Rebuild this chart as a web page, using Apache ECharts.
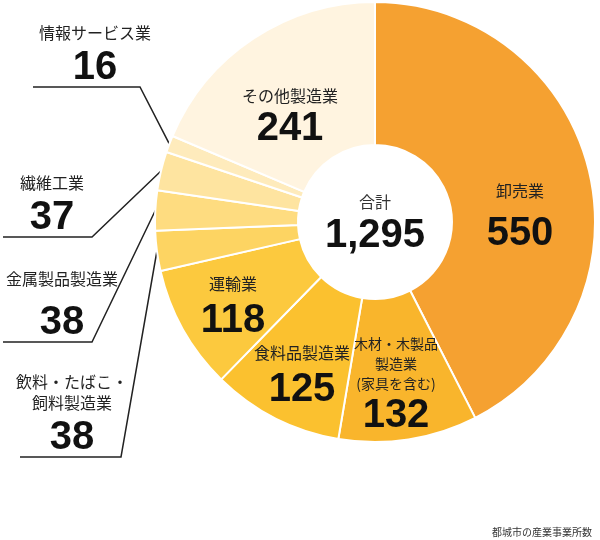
<!DOCTYPE html>
<html>
<head>
<meta charset="utf-8">
<script src="https://cdn.jsdelivr.net/npm/echarts@6/dist/echarts.min.js"></script>
<style>
html,body{margin:0;padding:0;background:#fff;}
#chart{width:600px;height:540px;}
</style>
</head>
<body>
<div id="chart"></div>
<script>
// ---- data ----
const categories = ['卸売業', '木材・木製品\n製造業\n(家具を含む)', '食料品製造業', '運輸業', '飲料・たばこ・\n飼料製造業', '金属製品製造業', '繊維工業', '情報サービス業', 'その他製造業'];
const values = [550, 132, 125, 118, 38, 38, 37, 16, 241];
const totalLabel = '合計';
const footnote = '都城市の産業事業所数';

// ---- styles ----
const colors = ['#F5A131', '#F9B52C', '#FBC12F', '#FCC93E', '#FDD462', '#FEDC80', '#FEE4A0', '#FEEBBC', '#FFF4E0'];
const JP = '"Noto Sans CJK JP", "Noto Sans", sans-serif';
const NUM = '"Liberation Sans Narrow", "Liberation Sans", Arial, sans-serif';

// label placement (layout only)
const innerPos = {0: [520, 220], 1: [396, 386], 2: [302, 379], 3: [233, 310], 8: [290, 118]};
const outerPos = {
  4: {x: 72, ul: 457, left: 20, elbow: 121},
  5: {x: 62, ul: 342, left: 3, elbow: 92},
  6: {x: 52, ul: 237, left: 3, elbow: 92},
  7: {x: 95, ul: 87, left: 33, elbow: 140}
};

const total = values.reduce((a, b) => a + b, 0);
const fmt = n => n.toLocaleString('en-US');

const data = categories.map((name, i) => {
  const outside = outerPos[i] !== undefined;
  return {
    name: name,
    value: values[i],
    itemStyle: {color: colors[i]},
    label: {position: outside ? 'outside' : 'inside'},
    labelLine: {show: outside}
  };
});

const chart = echarts.init(document.getElementById('chart'), null, {renderer: 'canvas'});
chart.setOption({
  animation: false,
  series: [{
    type: 'pie',
    center: [375, 222],
    radius: [77, 220],
    startAngle: 90,
    clockwise: true,
    avoidLabelOverlap: false,
    itemStyle: {borderColor: '#fff', borderWidth: 2},
    emphasis: {disabled: true},
    data: data,
    label: {
      show: true,
      color: '#222',
      formatter: function (p) {
        const i = p.dataIndex;
        const v = fmt(p.value);
        if (i === 1) return '{ns|' + p.name + '}\n{vs|' + v + '}';
        if (i === 8) return '{n|' + p.name + '}\n{vs|' + v + '}';
        if (i === 0) return '{n|' + p.name + '}\n{g6| }\n{v|' + v + '}';
        if (i === 5) return '{n|' + p.name + '}\n{g| }\n{vo|' + v + '}';
        if (outerPos[i] !== undefined) return '{n|' + p.name + '}\n{g5| }\n{vo|' + v + '}';
        return '{n|' + p.name + '}\n{v|' + v + '}';
      },
      rich: {
        n: {fontFamily: JP, fontSize: 16, lineHeight: 21, color: '#222', align: 'center'},
        ns: {fontFamily: JP, fontSize: 14, lineHeight: 20, color: '#222', align: 'center'},
        g: {fontSize: 4, lineHeight: 14},
        g5: {fontSize: 4, lineHeight: 5},
        g6: {fontSize: 4, lineHeight: 6},
        v: {fontFamily: NUM, fontSize: 40, fontWeight: 'bold', lineHeight: 52, color: '#111', align: 'center'},
        vs: {fontFamily: NUM, fontSize: 40, fontWeight: 'bold', lineHeight: 44, color: '#111', align: 'center'},
        vo: {fontFamily: NUM, fontSize: 40, fontWeight: 'bold', lineHeight: 40, color: '#111', align: 'center'}
      }
    },
    labelLine: {
      show: true,
      smooth: false,
      lineStyle: {color: '#222', width: 1.5}
    },
    labelLayout: function (params) {
      const i = params.dataIndex;
      if (innerPos[i]) {
        return {x: innerPos[i][0], y: innerPos[i][1], align: 'center', verticalAlign: 'middle'};
      }
      const o = outerPos[i];
      if (!o) return {};
      const pts = params.labelLinePoints;
      const anchor = pts && pts.length ? pts[0] : [o.elbow, o.ul];
      return {
        x: o.x,
        y: o.ul + 1,
        align: 'center',
        verticalAlign: 'bottom',
        labelLinePoints: [[anchor[0], anchor[1]], [o.elbow, o.ul], [o.left, o.ul]]
      };
    }
  }],
  graphic: [
    {type: 'text', x: 375, y: 202, style: {text: totalLabel, font: '16px ' + JP, fill: '#333', align: 'center', verticalAlign: 'middle'}},
    {type: 'text', x: 375, y: 236, style: {text: fmt(total), font: 'bold 40px ' + NUM, fill: '#111', align: 'center', verticalAlign: 'middle'}},
    {type: 'text', x: 592, y: 532, style: {text: footnote, font: '10px ' + JP, fill: '#333', align: 'right', verticalAlign: 'middle'}}
  ]
});
</script>
</body>
</html>
